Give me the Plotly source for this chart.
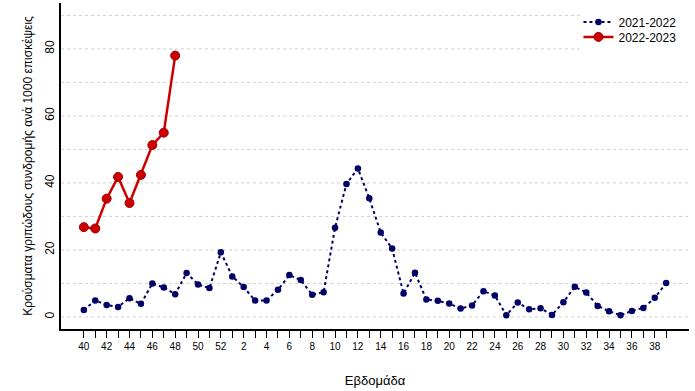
import plotly.graph_objects as go

weeks = [str(w) for w in list(range(40, 53)) + list(range(1, 40))]
tick_labels = [w if i % 2 == 0 else "" for i, w in enumerate(weeks)]

season_2021_2022 = [2.1, 4.9, 3.6, 3.0, 5.6, 3.9, 10.0, 8.8, 6.8, 13.1, 9.7, 8.6, 19.3,
                    12.1, 8.9, 4.9, 4.9, 8.1, 12.5, 11.0, 6.6, 7.4, 26.6, 39.7, 44.3, 35.4,
                    25.2, 20.4, 7.0, 13.2, 5.2, 4.8, 4.0, 2.5, 3.4, 7.7, 6.4, 0.5, 4.3,
                    2.3, 2.6, 0.6, 4.4, 9.0, 7.3, 3.3, 1.7, 0.5, 1.8, 2.7, 5.7, 10.1]
season_2022_2023 = [26.8, 26.4, 35.3, 41.8, 34.0, 42.4, 51.3, 55.0, 78.0]

y_ticks = [0, 20, 40, 60, 80]
grid_levels = list(range(0, 100, 10))

idx = list(range(len(weeks)))

fig = go.Figure()
fig.add_trace(go.Scatter(
    x=idx, y=season_2021_2022, name="2021-2022", mode="lines+markers",
    line=dict(color="#000066", width=2, dash="3px,3px"),
    marker=dict(color="#000066", size=6.5),
    legend="legend",
))
fig.add_trace(go.Scatter(
    x=idx[:len(season_2022_2023)], y=season_2022_2023, name="2022-2023", mode="lines+markers",
    line=dict(color="#CC0000", width=2.5),
    marker=dict(color="#CC0000", size=9, line=dict(color="#990000", width=1)),
    legend="legend2",
))

for g in grid_levels:
    fig.add_shape(type="line", xref="paper", yref="y", x0=0, x1=1, y0=g, y1=g,
                  line=dict(color="#d0d0d0", width=1, dash="dot"), layer="below")
# white legend backing box
fig.add_shape(type="rect", xref="paper", yref="paper", x0=0.826, x1=1.0, y0=0.85, y1=0.979,
              fillcolor="white", line=dict(width=0), layer="below")

font = "Liberation Sans, Arial, sans-serif"
leg_common = dict(xanchor="right", yanchor="middle", bgcolor="rgba(0,0,0,0)",
                  font=dict(size=12, family=font), itemwidth=30)
fig.update_layout(
    width=695, height=391,
    margin=dict(l=61, r=6, t=3, b=62),
    plot_bgcolor="white", paper_bgcolor="white",
    font=dict(family=font, color="black"),
    showlegend=True,
    legend=dict(x=0.988, y=0.942, **leg_common),
    legend2=dict(x=0.988, y=0.896, **leg_common),
    xaxis=dict(range=[-2, 53], tickmode="array", tickvals=idx, ticktext=tick_labels,
               ticks="outside", ticklen=7, tickwidth=1, tickcolor="black",
               showline=True, linecolor="black", linewidth=1.5, showgrid=False,
               zeroline=False, tickfont=dict(size=10),
               title=dict(text="Εβδομάδα", font=dict(size=13), standoff=25)),
    yaxis=dict(range=[-3.6, 93.7], tickmode="array", tickvals=y_ticks,
               ticktext=[str(v) for v in y_ticks], tickangle=-90,
               ticks="", showline=True, linecolor="black", linewidth=1.5,
               showgrid=False, zeroline=False, tickfont=dict(size=12),
               title=dict(text="Κρούσματα γριπώδους συνδρομής ανά 1000 επισκέψεις",
                          font=dict(size=12), standoff=8)),
)

fig.write_html("out.html", config={"displayModeBar": False},
               post_script="document.body.style.margin='0px';")
